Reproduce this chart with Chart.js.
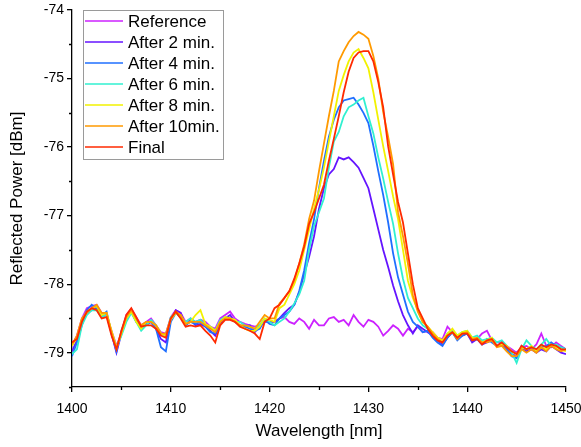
<!DOCTYPE html>
<html lang="en">
<head>
<meta charset="UTF-8">
<title>Reflected Power vs Wavelength</title>
<script src="https://cdn.jsdelivr.net/npm/chart.js@4"></script>
<style>
  html, body { margin: 0; padding: 0; background: #fff; }
  #wrap { width: 581px; height: 447px; }
</style>
</head>
<body>
<div id="wrap"><canvas id="spectrumChart"></canvas></div>
<script>
// wavelength grid, 0.5 nm steps from 1400 to 1450 nm
const wavelengths = Array.from({ length: 101 }, (_, i) => 1400 + i * 0.5)

const seriesNames = ['Reference', 'After 2 min.', 'After 4 min.', 'After 6 min.', 'After 8 min.', 'After 10min.', 'Final']
const seriesColors = ['#cc22ff', '#6414ff', '#1f6fff', '#30f0d0', '#f2f200', '#ff9a00', '#ff2a00']

// reflected power [dBm]; each row: 1400-1420 / 1420.5-1435.5 / 1436-1450
const reference = [
  -78.9,-78.75,-78.5,-78.35,-78.32,-78.3,-78.42,-78.45,-78.68,-78.9,-78.72,-78.45,-78.36,-78.48,-78.6,-78.55,-78.5,-78.6,-78.7,-78.72,-78.48,-78.38,-78.42,-78.55,-78.5,-78.55,-78.52,-78.55,-78.62,-78.65,-78.5,-78.45,-78.4,-78.5,-78.55,-78.58,-78.6,-78.62,-78.6,-78.52,-78.55,
  -78.55,-78.5,-78.48,-78.55,-78.58,-78.5,-78.55,-78.65,-78.52,-78.6,-78.6,-78.5,-78.48,-78.55,-78.52,-78.6,-78.45,-78.55,-78.62,-78.52,-78.55,-78.62,-78.75,-78.68,-78.6,-78.65,-78.75,-78.65,-78.7,-78.62,-78.7,
  -78.68,-78.7,-78.78,-78.8,-78.62,-78.7,-78.75,-78.72,-78.72,-78.82,-78.8,-78.72,-78.68,-78.82,-78.85,-78.85,-78.9,-78.95,-79.0,-78.92,-78.9,-78.95,-78.88,-78.72,-78.9,-78.92,-78.85,-78.9,-78.95
]
const after2 = [
  -78.98,-78.82,-78.55,-78.42,-78.38,-78.35,-78.48,-78.45,-78.72,-79.0,-78.72,-78.52,-78.4,-78.52,-78.65,-78.6,-78.55,-78.65,-78.8,-78.85,-78.52,-78.38,-78.42,-78.6,-78.52,-78.6,-78.58,-78.62,-78.68,-78.75,-78.58,-78.5,-78.45,-78.55,-78.6,-78.62,-78.6,-78.7,-78.62,-78.55,-78.55,
  -78.55,-78.5,-78.42,-78.35,-78.3,-78.12,-77.85,-77.6,-77.3,-76.9,-76.6,-76.4,-76.32,-76.15,-76.18,-76.15,-76.22,-76.3,-76.45,-76.6,-76.9,-77.2,-77.5,-77.75,-78.02,-78.25,-78.45,-78.6,-78.72,-78.6,-78.65,
  -78.7,-78.75,-78.82,-78.88,-78.78,-78.7,-78.8,-78.75,-78.72,-78.85,-78.8,-78.88,-78.85,-78.82,-78.9,-78.88,-78.95,-79.02,-79.05,-78.92,-78.98,-78.95,-79.0,-78.95,-78.98,-78.9,-78.95,-79.0,-79.02
]
const after4 = [
  -79.05,-78.85,-78.6,-78.38,-78.3,-78.36,-78.46,-78.4,-78.72,-78.98,-78.68,-78.48,-78.4,-78.55,-78.62,-78.58,-78.55,-78.65,-78.92,-78.98,-78.55,-78.42,-78.48,-78.6,-78.55,-78.58,-78.55,-78.62,-78.7,-78.72,-78.55,-78.5,-78.5,-78.55,-78.6,-78.62,-78.65,-78.68,-78.65,-78.52,-78.58,
  -78.6,-78.5,-78.45,-78.4,-78.3,-78.1,-77.8,-77.4,-77.05,-76.6,-76.2,-75.85,-75.6,-75.42,-75.32,-75.3,-75.28,-75.38,-75.5,-75.65,-75.98,-76.35,-76.7,-77.1,-77.55,-77.9,-78.15,-78.4,-78.55,-78.62,-78.7,
  -78.68,-78.78,-78.85,-78.9,-78.78,-78.7,-78.82,-78.75,-78.72,-78.82,-78.8,-78.88,-78.8,-78.85,-78.9,-78.85,-78.95,-79.05,-79.08,-78.9,-78.95,-78.92,-78.98,-78.92,-78.9,-78.85,-78.9,-78.92,-78.95
]
const after6 = [
  -79.02,-78.95,-78.6,-78.45,-78.38,-78.38,-78.48,-78.45,-78.7,-78.92,-78.75,-78.55,-78.42,-78.55,-78.68,-78.6,-78.52,-78.6,-78.72,-78.75,-78.48,-78.42,-78.48,-78.55,-78.5,-78.55,-78.52,-78.6,-78.62,-78.68,-78.52,-78.48,-78.5,-78.55,-78.55,-78.6,-78.62,-78.65,-78.6,-78.5,-78.55,
  -78.6,-78.55,-78.5,-78.4,-78.28,-78.15,-77.95,-77.5,-77.15,-76.95,-76.75,-76.3,-75.92,-75.78,-75.55,-75.42,-75.38,-75.32,-75.28,-75.55,-75.8,-76.15,-76.46,-76.8,-77.12,-77.55,-77.92,-78.2,-78.35,-78.5,-78.6,
  -78.65,-78.72,-78.8,-78.85,-78.72,-78.68,-78.75,-78.7,-78.68,-78.78,-78.75,-78.82,-78.8,-78.78,-78.85,-78.82,-78.9,-79.0,-79.15,-78.95,-78.82,-78.9,-78.95,-78.88,-78.8,-78.9,-78.88,-78.92,-78.95
]
const after8 = [
  -78.9,-78.78,-78.52,-78.4,-78.35,-78.32,-78.45,-78.42,-78.68,-78.92,-78.72,-78.5,-78.4,-78.55,-78.65,-78.55,-78.55,-78.6,-78.72,-78.75,-78.52,-78.42,-78.45,-78.58,-78.55,-78.45,-78.38,-78.58,-78.62,-78.68,-78.55,-78.48,-78.5,-78.52,-78.6,-78.65,-78.68,-78.68,-78.62,-78.5,-78.52,
  -78.55,-78.35,-78.3,-78.15,-78.0,-77.8,-77.5,-77.2,-76.9,-76.62,-76.3,-75.92,-75.55,-75.18,-74.95,-74.75,-74.62,-74.57,-74.7,-74.85,-75.2,-75.6,-75.99,-76.35,-76.72,-77.05,-77.5,-77.95,-78.2,-78.38,-78.55,
  -78.62,-78.7,-78.78,-78.82,-78.72,-78.65,-78.75,-78.7,-78.68,-78.78,-78.8,-78.85,-78.82,-78.78,-78.9,-78.88,-78.9,-78.98,-79.02,-78.92,-78.95,-78.9,-78.98,-78.92,-78.95,-78.88,-78.92,-78.95,-78.98
]
const after10 = [
  -78.88,-78.75,-78.5,-78.42,-78.35,-78.3,-78.42,-78.42,-78.7,-78.95,-78.7,-78.48,-78.38,-78.5,-78.6,-78.55,-78.55,-78.6,-78.72,-78.72,-78.5,-78.4,-78.45,-78.58,-78.55,-78.55,-78.55,-78.6,-78.65,-78.7,-78.55,-78.5,-78.5,-78.55,-78.6,-78.6,-78.62,-78.65,-78.55,-78.45,-78.5,
  -78.5,-78.28,-78.2,-78.1,-77.95,-77.7,-77.42,-77.05,-76.78,-76.35,-75.95,-75.55,-75.18,-74.75,-74.6,-74.47,-74.38,-74.32,-74.36,-74.42,-74.67,-75.0,-75.49,-75.85,-76.25,-76.95,-77.3,-77.7,-78.16,-78.4,-78.55,
  -78.62,-78.72,-78.8,-78.85,-78.75,-78.7,-78.8,-78.72,-78.7,-78.8,-78.78,-78.85,-78.85,-78.82,-78.92,-78.9,-78.98,-79.05,-79.05,-78.95,-79.0,-78.95,-79.0,-78.92,-78.98,-78.9,-78.95,-78.98,-78.95
]
const final = [
  -78.85,-78.8,-78.55,-78.4,-78.35,-78.38,-78.5,-78.48,-78.75,-78.95,-78.68,-78.45,-78.35,-78.48,-78.62,-78.6,-78.6,-78.65,-78.75,-78.78,-78.5,-78.4,-78.5,-78.62,-78.6,-78.62,-78.6,-78.68,-78.75,-78.85,-78.6,-78.52,-78.52,-78.55,-78.62,-78.65,-78.68,-78.72,-78.8,-78.55,-78.5,
  -78.35,-78.3,-78.2,-78.1,-77.92,-77.7,-77.45,-77.12,-76.95,-76.75,-76.55,-76.2,-75.88,-75.55,-75.2,-74.9,-74.7,-74.62,-74.6,-74.6,-74.75,-75.05,-75.42,-75.99,-76.4,-76.8,-77.1,-77.55,-78.0,-78.35,-78.5,
  -78.65,-78.75,-78.82,-78.85,-78.75,-78.7,-78.78,-78.72,-78.72,-78.82,-78.8,-78.88,-78.82,-78.8,-78.9,-78.85,-78.92,-78.98,-79.02,-78.9,-78.95,-78.92,-78.95,-78.88,-78.92,-78.88,-78.9,-78.95,-78.95
]

const xTicks = [1400, 1410, 1420, 1430, 1440, 1450]
const xMinorTicks = [1405, 1415, 1425, 1435, 1445]
const yTicks = [-79, -78, -77, -76, -75, -74]
const yMinorTicks = [-79.5, -78.5, -77.5, -76.5, -75.5, -74.5]

const allSeries = [reference, after2, after4, after6, after8, after10, final]
const FONT = "'Liberation Sans', Arial, sans-serif"

// short outward ticks at the half steps
const minorTicks = {
  id: 'minorTicks',
  afterDraw(chart) {
    const { ctx, scales: { x, y } } = chart
    ctx.save()
    ctx.strokeStyle = '#000'
    ctx.lineWidth = 1.3
    ctx.beginPath()
    xMinorTicks.forEach((v) => {
      const px = Math.round(x.getPixelForValue(v)) + 0.5
      ctx.moveTo(px, y.bottom)
      ctx.lineTo(px, y.bottom + 3)
    })
    yMinorTicks.forEach((v) => {
      const py = Math.round(y.getPixelForValue(v)) + 0.5
      ctx.moveTo(x.left, py)
      ctx.lineTo(x.left - 3, py)
    })
    ctx.stroke()
    ctx.restore()
  },
}

// boxed legend in the upper left of the plot
const boxLegend = {
  id: 'boxLegend',
  afterDraw(chart) {
    const { ctx, chartArea } = chart
    const left = chartArea.left + 11
    const top = chartArea.top
    ctx.save()
    ctx.fillStyle = '#fff'
    ctx.fillRect(left, top, 140, 149)
    ctx.strokeStyle = '#9a9a9a'
    ctx.lineWidth = 1
    ctx.strokeRect(left + 0.5, top + 0.5, 140, 149)
    ctx.font = '17px ' + FONT
    ctx.textBaseline = 'middle'
    ctx.fillStyle = '#000'
    seriesNames.forEach((name, i) => {
      const rowY = top + 11 + i * 21
      ctx.strokeStyle = seriesColors[i]
      ctx.lineWidth = 1.5
      ctx.beginPath()
      ctx.moveTo(left + 2, rowY)
      ctx.lineTo(left + 40, rowY)
      ctx.stroke()
      ctx.fillText(name, left + 45, rowY + 1)
    })
    ctx.restore()
  },
}

const ctx = document.getElementById('spectrumChart').getContext('2d')
new Chart(ctx, {
  type: 'line',
  data: {
    datasets: allSeries.map((values, i) => ({
      label: seriesNames[i],
      data: wavelengths.map((w, j) => ({ x: w, y: values[j] })),
      borderColor: seriesColors[i],
      borderWidth: 1.8,
      pointRadius: 0,
      tension: 0,
      order: allSeries.length - 1 - i,
    })),
  },
  options: {
    responsive: true,
    maintainAspectRatio: false,
    animation: false,
    events: [],
    layout: { padding: { top: 10, right: 15, left: 0, bottom: 0 } },
    plugins: { legend: { display: false }, tooltip: { enabled: false } },
    scales: {
      x: {
        type: 'linear',
        min: 1400,
        max: 1450,
        afterBuildTicks: (scale) => { scale.ticks = xTicks.map((v) => ({ value: v })) },
        afterFit: (scale) => {
          scale.height = 60
          scale.paddingLeft = 0
          scale.paddingRight = 0
        },
        border: { color: '#000', width: 1.3 },
        grid: { drawOnChartArea: false, drawTicks: true, tickLength: 5, color: '#000', lineWidth: 1.3 },
        ticks: { color: '#000', font: { family: FONT, size: 14 }, padding: 9, maxRotation: 0, callback: (v) => String(v) },
        title: { display: true, text: 'Wavelength [nm]', color: '#000', font: { family: FONT, size: 17 }, padding: { top: 0, bottom: 5 } },
      },
      y: {
        min: -79.5,
        max: -74,
        afterBuildTicks: (scale) => { scale.ticks = yTicks.map((v) => ({ value: v })) },
        afterFit: (scale) => {
          scale.width = 72
          scale.paddingTop = 0
          scale.paddingBottom = 0
        },
        border: { color: '#000', width: 1.3 },
        grid: { drawOnChartArea: false, drawTicks: true, tickLength: 5, color: '#000', lineWidth: 1.3 },
        ticks: { color: '#000', font: { family: FONT, size: 14 }, padding: 3, callback: (v) => String(v) },
        title: { display: true, text: 'Reflected Power [dBm]', color: '#000', font: { family: FONT, size: 17 }, padding: { top: 7, bottom: 0 } },
      },
    },
  },
  plugins: [minorTicks, boxLegend],
})
</script>
</body>
</html>
